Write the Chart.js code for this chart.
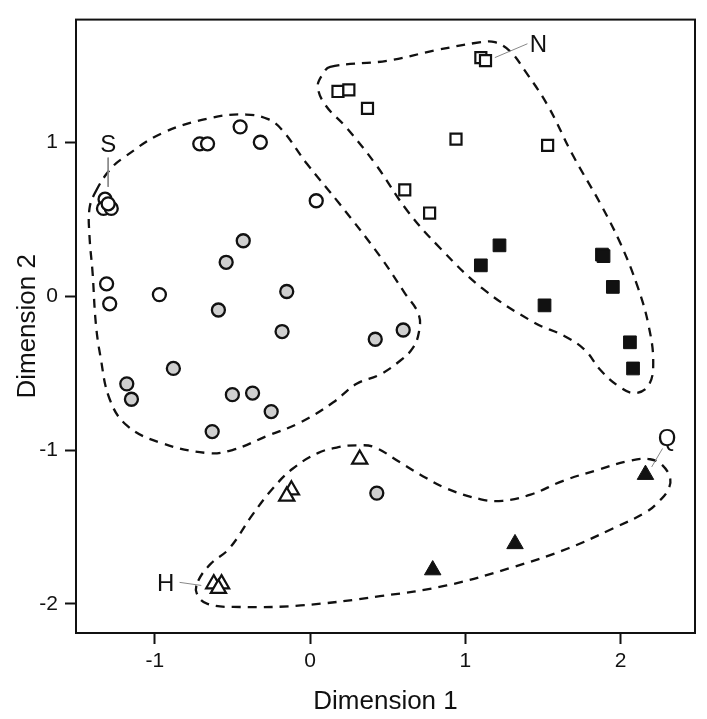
<!DOCTYPE html>
<html>
<head>
<meta charset="utf-8">
<script src="https://cdn.jsdelivr.net/npm/chart.js@4/dist/chart.umd.min.js"></script>
<style>
  html, body { margin: 0; padding: 0; background: #fff; }
  #wrap { width: 707px; height: 719px; }
</style>
</head>
<body>
<div id="wrap"><canvas id="mdsChart" width="707" height="719"></canvas></div>
<script>
// axis ticks
const xTicks = [-1, 0, 1, 2];
const yTicks = [-2, -1, 0, 1];

// point groups (Dimension 1, Dimension 2)
const openCircleX = [-0.71, -0.66, -0.45, -0.32, 0.04, -1.32, -1.33, -1.28, -1.30, -1.31, -1.29, -0.97];
const openCircleY = [0.99, 0.99, 1.10, 1.00, 0.62, 0.63, 0.57, 0.57, 0.60, 0.08, -0.05, 0.01];

const grayCircleX = [-0.43, -0.54, -0.15, -0.59, -0.18, 0.42, 0.60, -0.88, -1.18, -1.15, -0.50, -0.37, -0.25, -0.63, 0.43];
const grayCircleY = [0.36, 0.22, 0.03, -0.09, -0.23, -0.28, -0.22, -0.47, -0.57, -0.67, -0.64, -0.63, -0.75, -0.88, -1.28];

const openSquareX = [1.10, 1.13, 0.18, 0.25, 0.37, 0.94, 1.53, 0.61, 0.77];
const openSquareY = [1.55, 1.53, 1.33, 1.34, 1.22, 1.02, 0.98, 0.69, 0.54];

const filledSquareX = [1.22, 1.10, 1.88, 1.89, 1.95, 1.51, 2.06, 2.08];
const filledSquareY = [0.33, 0.20, 0.27, 0.26, 0.06, -0.06, -0.30, -0.47];

const openTriangleX = [0.32, -0.12, -0.15, -0.62, -0.57, -0.59];
const openTriangleY = [-1.06, -1.26, -1.30, -1.87, -1.87, -1.90];

const filledTriangleX = [2.16, 1.32, 0.79];
const filledTriangleY = [-1.16, -1.61, -1.78];

// dashed outlines round the groups
const hullCircleX = [-1.38, -1.29, -1.20, -0.95, -0.63, -0.41, -0.27, -0.18, -0.02, 0.19, 0.45, 0.61, 0.70, 0.70, 0.66, 0.58, 0.45, 0.30, 0.15, -0.06, -0.28, -0.50, -0.66, -0.97, -1.18, -1.29, -1.35, -1.38, -1.40, -1.42, -1.42];
const hullCircleY = [0.68, 0.82, 0.90, 1.06, 1.16, 1.18, 1.15, 1.08, 0.86, 0.60, 0.26, 0.02, -0.12, -0.24, -0.34, -0.42, -0.51, -0.57, -0.69, -0.82, -0.91, -1.00, -1.02, -0.95, -0.84, -0.67, -0.39, -0.17, 0.15, 0.39, 0.57];

const hullSquareX = [0.13, 0.50, 0.82, 1.10, 1.19, 1.29, 1.38, 1.53, 1.69, 1.87, 2.00, 2.11, 2.18, 2.21, 2.18, 2.09, 1.98, 1.87, 1.77, 1.64, 1.44, 1.11, 0.84, 0.63, 0.42, 0.23, 0.10, 0.05, 0.08];
const hullSquareY = [1.49, 1.53, 1.60, 1.65, 1.65, 1.59, 1.47, 1.24, 0.92, 0.60, 0.34, 0.06, -0.19, -0.43, -0.58, -0.63, -0.58, -0.48, -0.35, -0.26, -0.17, 0.05, 0.31, 0.55, 0.86, 1.10, 1.24, 1.36, 1.44];

const hullTriangleX = [-0.72, -0.64, -0.52, -0.37, -0.24, -0.11, 0.05, 0.19, 0.30, 0.41, 0.58, 0.71, 0.88, 1.10, 1.24, 1.42, 1.63, 1.85, 2.06, 2.19, 2.27, 2.32, 2.30, 2.25, 2.17, 1.95, 1.66, 1.31, 0.88, 0.45, -0.06, -0.45, -0.66, -0.73];
const hullTriangleY = [-1.85, -1.74, -1.64, -1.42, -1.25, -1.12, -1.02, -0.98, -0.97, -0.98, -1.08, -1.16, -1.25, -1.32, -1.33, -1.29, -1.20, -1.13, -1.07, -1.06, -1.10, -1.19, -1.27, -1.33, -1.40, -1.51, -1.64, -1.76, -1.88, -1.95, -2.01, -2.02, -2.00, -1.93];

// named samples and their leader lines
const labelText = ['S', 'N', 'Q', 'H'];
const labelX = [-1.30, 1.47, 2.30, -0.93];
const labelY = [0.98, 1.63, -0.93, -1.87];
const leaderX1 = [-1.30, 1.19, 2.20, -0.84];
const leaderY1 = [0.90, 1.55, -1.11, -1.86];
const leaderX2 = [-1.30, 1.40, 2.27, -0.70];
const leaderY2 = [0.71, 1.64, -0.99, -1.88];

function toPoints(xs, ys) {
    return xs.map((x, i) => ({ x: x, y: ys[i] }));
}

function pointSet(xs, ys, style, radius, fill, border) {
    return {
        data: toPoints(xs, ys),
        pointStyle: style,
        pointRadius: radius,
        pointBackgroundColor: fill,
        pointBorderColor: '#111',
        pointBorderWidth: border,
        showLine: false
    };
}

function hullSet(xs, ys) {
    return {
        data: toPoints(xs, ys),
        showLine: true,
        isHull: true,
        borderColor: '#111',
        borderWidth: 2.3,
        borderDash: [9, 7],
        tension: 0.4,
        pointRadius: 0,
        fill: false
    };
}

const datasets = [
    pointSet(openCircleX, openCircleY, 'circle', 6.5, '#fff', 2.3),
    pointSet(grayCircleX, grayCircleY, 'circle', 6.5, '#cfcfcf', 2.3),
    pointSet(openSquareX, openSquareY, 'rect', 7.8, '#fff', 2.2),
    pointSet(filledSquareX, filledSquareY, 'rect', 9, '#111', 1),
    pointSet(openTriangleX, openTriangleY, 'triangle', 8.8, '#fff', 2.2),
    pointSet(filledTriangleX, filledTriangleY, 'triangle', 9.5, '#111', 1)
];

labelText.forEach((t, i) => {
    datasets.push({
        data: [{ x: leaderX1[i], y: leaderY1[i] }, { x: leaderX2[i], y: leaderY2[i] }],
        showLine: true,
        borderColor: '#888',
        borderWidth: 1,
        pointRadius: 0
    });
});

datasets.push(hullSet(hullCircleX, hullCircleY));
datasets.push(hullSet(hullSquareX, hullSquareY));
datasets.push(hullSet(hullTriangleX, hullTriangleY));

// close the dashed outlines smoothly
const closeLoops = {
    id: 'closeLoops',
    afterDatasetUpdate(chart, args) {
        if (chart.data.datasets[args.index].isHull) {
            args.meta.dataset._loop = true;
            args.meta.dataset._fullLoop = true;
        }
    }
};

const frameAndLabels = {
    id: 'frameAndLabels',
    afterDatasetsDraw(chart) {
        const ctx = chart.ctx;
        const a = chart.chartArea;
        const xs = chart.scales.x;
        const ys = chart.scales.y;
        ctx.save();
        ctx.strokeStyle = '#111';
        ctx.lineWidth = 2;
        ctx.strokeRect(a.left, a.top, a.right - a.left, a.bottom - a.top);
        ctx.fillStyle = '#111';
        ctx.font = '24px "Liberation Sans", Arial, sans-serif';
        ctx.textAlign = 'center';
        ctx.textBaseline = 'middle';
        labelText.forEach((t, i) => {
            ctx.fillText(t, xs.getPixelForValue(labelX[i]), ys.getPixelForValue(labelY[i]));
        });
        ctx.restore();
    }
};

Chart.defaults.font.family = '"Liberation Sans", Arial, sans-serif';
Chart.defaults.color = '#111';

new Chart(document.getElementById('mdsChart'), {
    type: 'scatter',
    data: { datasets: datasets },
    options: {
        responsive: false,
        animation: false,
        layout: { padding: { top: 14, right: 12, left: 0, bottom: 0 } },
        plugins: { legend: { display: false }, tooltip: { enabled: false } },
        scales: {
            x: {
                min: -1.507,
                max: 2.479,
                afterBuildTicks: function(scale) {
                    scale.ticks = xTicks.map(v => ({ value: v }));
                },
                afterFit: function(scale) { scale.height = 86; },
                grid: { drawOnChartArea: false, tickLength: 11, tickColor: '#111', tickWidth: 2 },
                border: { display: false },
                ticks: { font: { size: 21 }, padding: 5, color: '#111' },
                title: { display: true, text: 'Dimension 1', font: { size: 26 }, padding: { top: 0, bottom: 2 }, color: '#111' }
            },
            y: {
                min: -2.189,
                max: 1.797,
                afterBuildTicks: function(scale) {
                    scale.ticks = yTicks.map(v => ({ value: v }));
                },
                afterFit: function(scale) { scale.width = 76; },
                grid: { drawOnChartArea: false, tickLength: 11, tickColor: '#111', tickWidth: 2 },
                border: { display: false },
                ticks: { font: { size: 21 }, padding: 7, color: '#111' },
                title: { display: true, text: 'Dimension 2', font: { size: 26 }, padding: { top: 12, bottom: 0 }, color: '#111' }
            }
        }
    },
    plugins: [closeLoops, frameAndLabels]
});
</script>
</body>
</html>
